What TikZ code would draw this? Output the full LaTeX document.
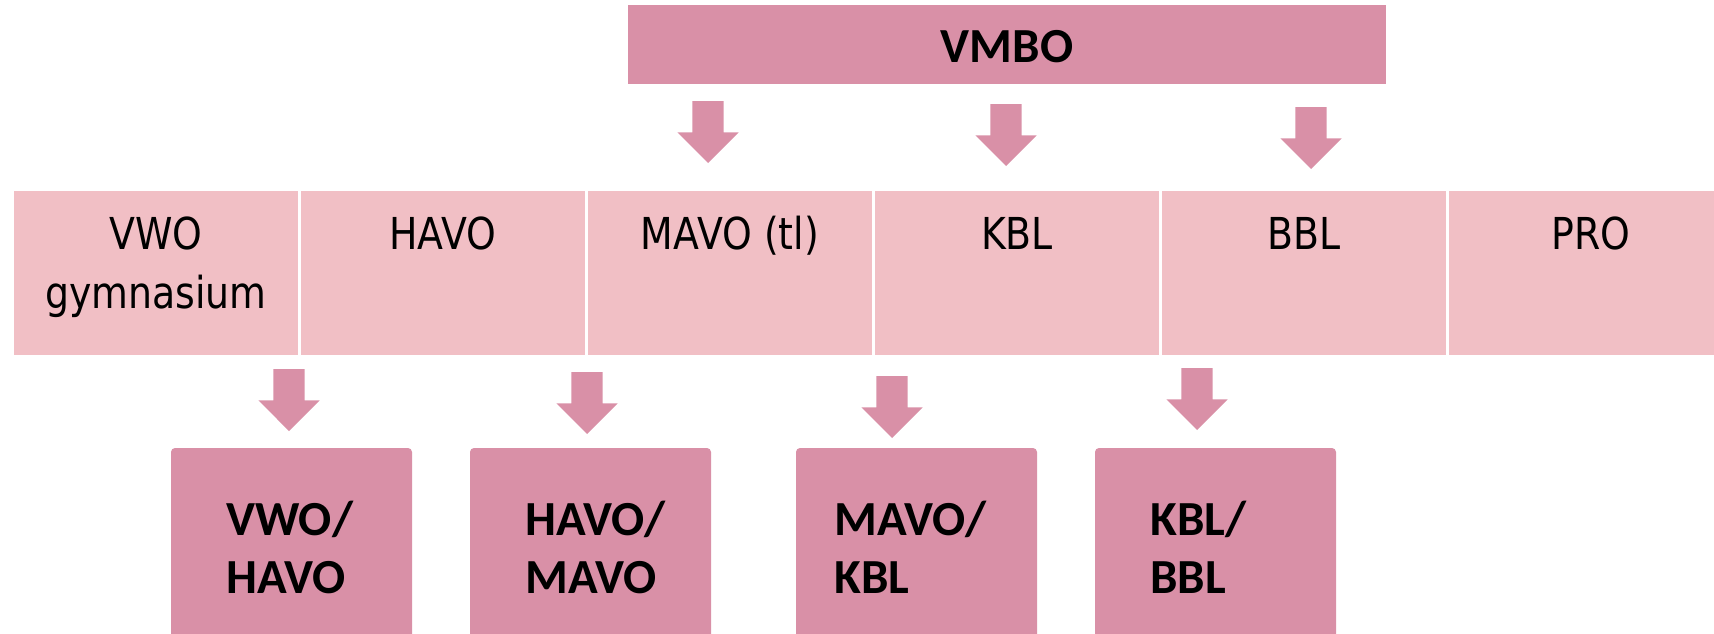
\documentclass[tikz,border=0pt]{standalone}
\usepackage{fontspec}
\usetikzlibrary{shapes.arrows}
\newfontfamily\rowfont[FakeStretch=0.86]{DejaVu Sans}
\newfontfamily\calfont{Carlito}
\definecolor{darkpink}{RGB}{217,144,167}
\definecolor{lightpink}{RGB}{241,191,197}
\begin{document}
\begin{tikzpicture}[x=1pt,y=-1pt,
  rowbox/.style={fill=lightpink,draw=none,anchor=north west,minimum width=284pt,minimum height=164pt,inner sep=0,outer sep=0},
  lowbox/.style={fill=darkpink,draw=none,anchor=north west,minimum width=241pt,minimum height=200pt,inner sep=0,outer sep=0,rounded corners=4pt},
  topbox/.style={fill=darkpink,draw=none,anchor=north west,minimum width=758pt,minimum height=79pt,inner sep=0,outer sep=0},
  blockarrow/.style={single arrow,fill=darkpink,draw=none,rotate=-90,anchor=tail,inner xsep=0pt,inner ysep=15.5pt,outer sep=0,minimum height=62pt,single arrow head extend=15pt,single arrow tip angle=90},
  rowtxt/.style={anchor=base,inner sep=0,font=\rowfont\fontsize{44}{59}\selectfont},
  boldtxt/.style={anchor=base west,inner sep=0,font=\calfont\bfseries\fontsize{49}{58}\selectfont},
  toptxt/.style={anchor=base,inner sep=0,font=\calfont\bfseries\fontsize{49}{58}\selectfont}]
\useasboundingbox (0,0) rectangle (1714,634);
\clip (0,0) rectangle (1714,634);
% top box
\node[topbox] (vmbo) at (628,5) {};
\node[toptxt] (vmbot) at (1007,63) {VMBO};
% top arrows
\node[blockarrow] (ta1) at (708,101) {};
\node[blockarrow] (ta2) at (1006,104) {};
\node[blockarrow] (ta3) at (1311,107) {};
% row boxes
\node[rowbox] (b1) at (14,191) {};
\node[rowbox] (b2) at (301,191) {};
\node[rowbox] (b3) at (588,191) {};
\node[rowbox] (b4) at (875,191) {};
\node[rowbox] (b5) at (1162,191) {};
\node[rowbox] (b6) at (1449,191) {};
\node[rowtxt] (t1) at (156,249) {VWO};
\node[rowtxt] (t1b) at (156,308) {gymnasium};
\node[rowtxt] (t2) at (443,249) {HAVO};
\node[rowtxt] (t3) at (730,249) {MAVO (tl)};
\node[rowtxt] (t4) at (1017,249) {KBL};
\node[rowtxt] (t5) at (1304,249) {BBL};
\node[rowtxt] (t6) at (1591,249) {PRO};
% bottom arrows
\node[blockarrow] (ba1) at (289,369) {};
\node[blockarrow] (ba2) at (587,372) {};
\node[blockarrow] (ba3) at (892,376) {};
\node[blockarrow] (ba4) at (1197,368) {};
% bottom boxes
\node[lowbox] (l1) at (171,448) {};
\node[lowbox] (l2) at (470,448) {};
\node[lowbox] (l3) at (796,448) {};
\node[lowbox] (l4) at (1095,448) {};
\node[boldtxt] (l1a) at (226,535) {VWO/};
\node[boldtxt] (l1b) at (226,593) {HAVO};
\node[boldtxt] (l2a) at (525,535) {HAVO/};
\node[boldtxt] (l2b) at (525,593) {MAVO};
\node[boldtxt] (l3a) at (834,535) {MAVO/};
\node[boldtxt] (l3b) at (834,593) {KBL};
\node[boldtxt] (l4a) at (1150,535) {KBL/};
\node[boldtxt] (l4b) at (1150,593) {BBL};
\end{tikzpicture}
\end{document}
